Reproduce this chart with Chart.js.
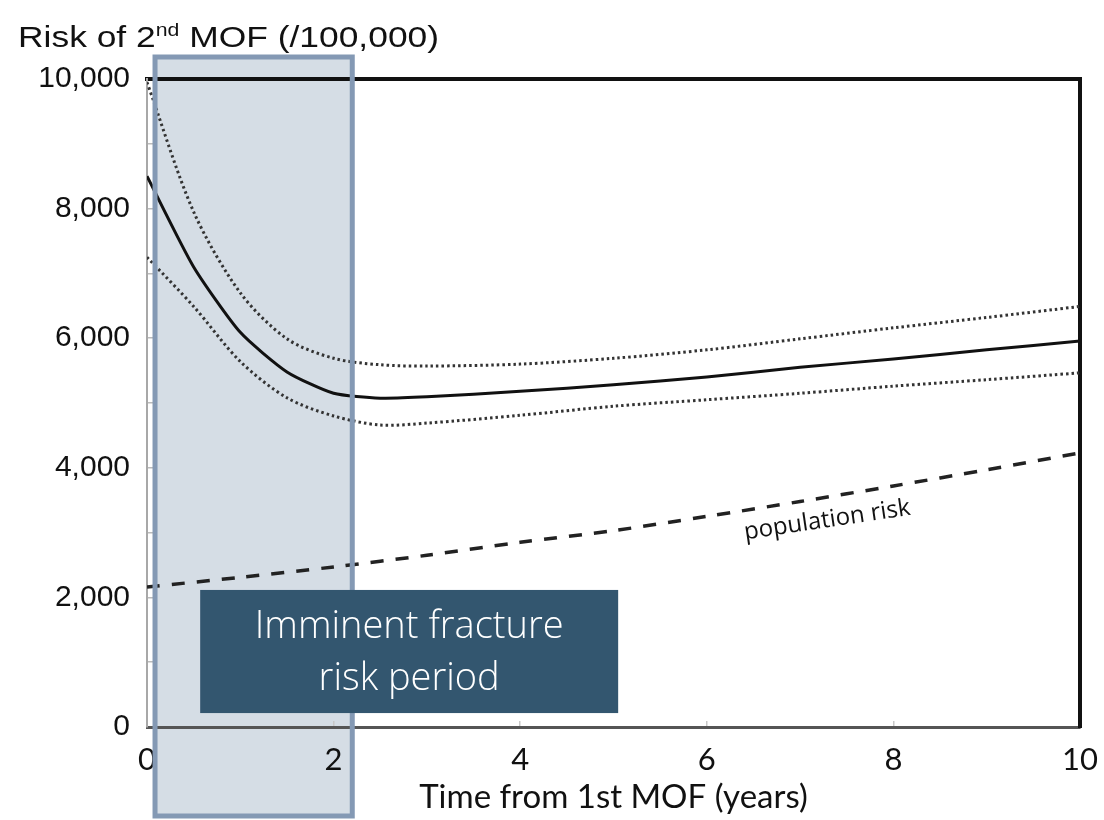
<!DOCTYPE html>
<html>
<head>
<meta charset="utf-8">
<script src="https://cdn.jsdelivr.net/npm/chart.js@4.4.0/dist/chart.umd.min.js"></script>
<style>
  html, body { margin: 0; padding: 0; background: #fff; }
  #wrap { position: relative; width: 1104px; height: 820px; }
  #title {
    position: absolute; left: 18px; top: 22px;
    font: 30px "Liberation Sans", Arial, sans-serif; line-height: 30px;
    color: #111; white-space: nowrap;
    transform: scaleX(1.18); transform-origin: 0 0;
  }
  #title sup { font-size: 18px; line-height: 0; vertical-align: 11px; }
</style>
</head>
<body>
<div id="wrap">
  <canvas id="myChart" width="1104" height="820"></canvas>
  <div id="title">Risk of 2<sup>nd</sup> MOF (/100,000)</div>
</div>
<script>
// years after the first major osteoporotic fracture
const years = [0, 0.5, 1, 1.5, 2, 2.5, 3, 4, 5, 6, 7, 8, 9, 10];
const risk  = [8500, 7100, 6090, 5480, 5150, 5075, 5095, 5180, 5280, 5400, 5550, 5680, 5820, 5955];
const upper = [9950, 7950, 6700, 5990, 5690, 5590, 5570, 5600, 5690, 5820, 5990, 6160, 6320, 6490];
const lower = [7250, 6490, 5640, 5080, 4800, 4660, 4690, 4810, 4950, 5050, 5150, 5260, 5360, 5465];

const popYears = [0, 1, 2, 3, 4, 5, 6, 7, 8, 9, 10];
const popRisk  = [2160, 2310, 2470, 2650, 2850, 3030, 3250, 3480, 3720, 3970, 4230];

const xTicks = [0, 2, 4, 6, 8, 10];
const yTicks = [0, 2000, 4000, 6000, 8000, 10000];

// imminent risk period (years) and label spots
const shadeFrom = 0.086, shadeTo = 2.2;
const boxText = ['Imminent fracture', 'risk period'];
const popLabel = { text: 'population risk', x: 7.29, y: 3190 };

const toPoints = (xs, ys) => xs.map((x, i) => ({ x: x, y: ys[i] }));

const periodPlugin = {
  id: 'period',
  beforeDraw(chart) {
    const { ctx, chartArea, scales } = chart;
    const l = scales.x.getPixelForValue(shadeFrom);
    const r = scales.x.getPixelForValue(shadeTo);
    const t = chartArea.top - 22, b = chart.height - 4;
    ctx.save();
    ctx.fillStyle = '#d5dde5';
    ctx.fillRect(l, t, r - l, b - t);
    ctx.restore();
  },
  afterDraw(chart) {
    const { ctx, chartArea, scales } = chart;
    const x = scales.x, y = scales.y;
    const l = x.getPixelForValue(shadeFrom);
    const r = x.getPixelForValue(shadeTo);
    const t = chartArea.top - 22, b = chart.height - 4;
    ctx.save();
    ctx.strokeStyle = '#8499b4';
    ctx.lineWidth = 5;
    ctx.strokeRect(l, t, r - l, b - t);

    // label box
    const bl = x.getPixelForValue(0.57), br = x.getPixelForValue(5.05);
    const bt = y.getPixelForValue(2115), bb = y.getPixelForValue(215);
    ctx.fillStyle = '#33566f';
    ctx.fillRect(bl, bt, br - bl, bb - bt);
    ctx.fillStyle = '#ffffff';
    ctx.font = '300 38px "Open Sans", sans-serif';
    ctx.textAlign = 'center';
    ctx.textBaseline = 'alphabetic';
    ctx.fillText(boxText[0], (bl + br) / 2, bt + 48);
    ctx.fillText(boxText[1], (bl + br) / 2, bt + 100);

    // population risk label
    ctx.translate(x.getPixelForValue(popLabel.x), y.getPixelForValue(popLabel.y));
    ctx.rotate(-8.5 * Math.PI / 180);
    ctx.fillStyle = '#111';
    ctx.font = '24px "Open Sans", sans-serif';
    ctx.textBaseline = 'middle';
    ctx.fillText(popLabel.text, 0, 0);
    ctx.restore();
  }
};

const ctx = document.getElementById('myChart').getContext('2d');
const chart = new Chart(ctx, {
  type: 'line',
  data: {
    datasets: [
      {
        label: 'Risk of 2nd MOF',
        data: toPoints(years, risk),
        borderColor: '#111',
        borderWidth: 3,
        tension: 0.2
      },
      {
        label: 'Upper limit',
        data: toPoints(years, upper),
        borderColor: '#333',
        borderWidth: 3,
        borderDash: [2.5, 3],
        tension: 0.3
      },
      {
        label: 'Lower limit',
        data: toPoints(years, lower),
        borderColor: '#333',
        borderWidth: 3,
        borderDash: [2.5, 3],
        tension: 0.3
      },
      {
        label: 'Population risk',
        data: toPoints(popYears, popRisk),
        borderColor: '#222',
        borderWidth: 3.5,
        borderDash: [13, 12],
        tension: 0.3
      }
    ]
  },
  options: {
    responsive: false,
    animation: false,
    layout: { padding: 0 },
    elements: { point: { radius: 0 } },
    plugins: {
      legend: { display: false },
      tooltip: { enabled: false }
    },
    scales: {
      x: {
        type: 'linear',
        position: 'bottom',
        min: 0, max: 10,
        afterFit: s => { s.height = 93; s.paddingLeft = 0; s.paddingRight = 0; },
        afterBuildTicks: s => { s.ticks = xTicks.map(v => ({ value: v })); },
        grid: { drawOnChartArea: false, drawTicks: true, tickLength: -6, color: '#c8c8c8', lineWidth: 1.5 },
        border: { color: '#555', width: 3 },
        ticks: {
          padding: 20,
          color: '#111',
          font: { family: 'Lato, sans-serif', size: 31 }
        },
        title: {
          display: true,
          text: 'Time from 1st MOF (years)',
          color: '#111',
          font: { family: 'Lato, sans-serif', size: 33 },
          padding: { top: 0, bottom: 3 }
        }
      },
      x2: {
        type: 'linear',
        position: 'top',
        min: 0, max: 10,
        afterFit: s => { s.height = 79; s.paddingLeft = 0; s.paddingRight = 0; },
        grid: { display: false },
        border: { color: '#111', width: 4 },
        ticks: { display: false }
      },
      y: {
        type: 'linear',
        position: 'left',
        min: 0, max: 10000,
        afterFit: s => { s.width = 147; s.paddingTop = 0; s.paddingBottom = 0; },
        afterBuildTicks: s => {
          const t = [];
          for (let v = 0; v <= 10000; v += 1000) t.push({ value: v });
          s.ticks = t;
        },
        grid: { drawOnChartArea: false, drawTicks: true, tickLength: -6, color: '#bbb', lineWidth: 1.5 },
        border: { color: '#a8a8a8', width: 2 },
        ticks: {
          autoSkip: false,
          padding: 23,
          color: '#111',
          font: { family: '"Liberation Sans", Arial, sans-serif', size: 30 },
          callback: v => yTicks.includes(v) ? v.toLocaleString('en-US') : ''
        }
      },
      y2: {
        type: 'linear',
        position: 'right',
        min: 0, max: 10000,
        afterFit: s => { s.width = 24; },
        grid: { display: false },
        border: { color: '#111', width: 4 },
        ticks: { display: false }
      }
    }
  },
  plugins: [periodPlugin]
});
</script>
</body>
</html>
